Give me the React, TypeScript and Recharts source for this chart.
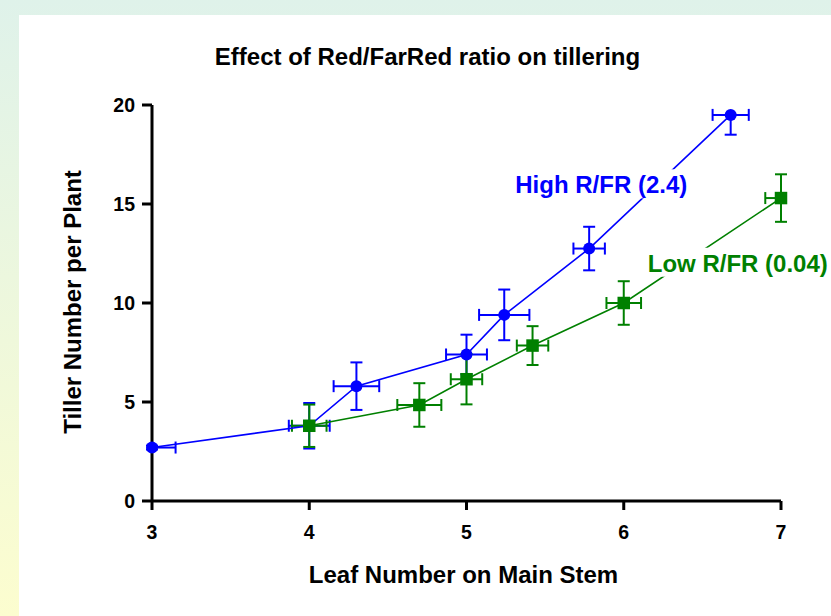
import { ScatterChart, Scatter, XAxis, YAxis, ErrorBar, ReferenceDot } from "recharts";

// Leaf number on main stem (x) and tiller number per plant (y)
const highLeaf = [3, 4, 4.3, 5, 5.24, 5.78, 6.68];
const highTillers = [2.7, 3.8, 5.8, 7.4, 9.4, 12.75, 19.5];
const highLeafErr: (number | number[])[] = [[0, 0.15], 0.13, 0.145, 0.13, 0.16, 0.1, 0.115];
const highTillerErr: (number | number[])[] = [0.1, 1.15, 1.2, 1.0, 1.28, 1.1, [1.0, 0]];

const lowLeaf = [4, 4.7, 5, 5.42, 6, 7];
const lowTillers = [3.8, 4.85, 6.15, 7.85, 10.0, 15.3];
const lowLeafErr: (number | number[])[] = [0.11, 0.14, 0.1, 0.1, 0.11, [0.1, 0]];
const lowTillerErr: (number | number[])[] = [1.07, 1.1, 1.27, 0.98, 1.1, 1.2];

const xTicks = [3, 4, 5, 6, 7];
const yTicks = [0, 5, 10, 15, 20];

const HIGH = "#0000ff";
const LOW = "#008000";
const FONT = '"Liberation Sans", Arial, Helvetica, sans-serif';

const toPoints = (
  xs: number[],
  ys: number[],
  xe: (number | number[])[],
  ye: (number | number[])[]
) => xs.map((x, i) => ({ x, y: ys[i], xErr: xe[i], yErr: ye[i] }));

const highData = toPoints(highLeaf, highTillers, highLeafErr, highTillerErr);
const lowData = toPoints(lowLeaf, lowTillers, lowLeafErr, lowTillerErr);

const CircleDot = (p: any) => <circle cx={p.cx} cy={p.cy} r={6} fill={HIGH} />;
const SquareDot = (p: any) => (
  <rect x={p.cx - 6.25} y={p.cy - 6.25} width={12.5} height={12.5} fill={LOW} />
);

const seriesLabel = (text: string, color: string, w: number) => (p: any) => {
  const { x, y } = p.viewBox;
  return (
    <g>
      <rect x={x - 3} y={y - 24} width={w} height={29} fill="#fff" />
      <text x={x} y={y} fill={color} fontFamily={FONT} fontWeight="bold" fontSize={24}>
        {text}
      </text>
    </g>
  );
};

const tickStyle = { fontFamily: FONT, fontWeight: "bold", fontSize: 19.5, fill: "#000" };

export default function App() {
  return (
    <div
      style={{
        position: "absolute",
        left: 0,
        top: 0,
        width: 831,
        height: 616,
        overflow: "hidden",
        background: "linear-gradient(#dff2ea, #fcfdcf)",
      }}
    >
      <div style={{ position: "absolute", left: 19, top: 15, right: 0, bottom: 0, background: "#fff" }} />
      <div
        style={{
          position: "absolute",
          left: 0,
          top: 45,
          width: 855,
          textAlign: "center",
          fontFamily: FONT,
          fontWeight: "bold",
          fontSize: 24,
          lineHeight: "24px",
          whiteSpace: "nowrap",
        }}
      >
        Effect of Red/FarRed ratio on tillering
      </div>
      <div style={{ position: "absolute", left: 0, top: 0 }}>
        <ScatterChart width={831} height={616} margin={{ top: 105, right: 50, bottom: 0, left: 0 }}>
          <XAxis
            type="number"
            dataKey="x"
            domain={[3, 7]}
            ticks={xTicks}
            height={115}
            tickSize={9}
            tickMargin={15}
            tick={tickStyle}
            axisLine={{ stroke: "#000", strokeWidth: 3 }}
            tickLine={{ stroke: "#000", strokeWidth: 3 }}
            label={(p: any) => (
              <text
                x={p.viewBox.x + p.viewBox.width / 2 - 3}
                y={p.viewBox.y + 82}
                textAnchor="middle"
                fontFamily={FONT}
                fontWeight="bold"
                fontSize={24}
                fill="#000"
              >
                Leaf Number on Main Stem
              </text>
            )}
          />
          <YAxis
            type="number"
            dataKey="y"
            domain={[0, 20]}
            ticks={yTicks}
            width={152}
            tickSize={10}
            tickMargin={7}
            tick={tickStyle}
            axisLine={{ stroke: "#000", strokeWidth: 3 }}
            tickLine={{ stroke: "#000", strokeWidth: 3 }}
            label={(p: any) => {
              const cx = p.viewBox.x + 81;
              const cy = p.viewBox.y + p.viewBox.height / 2 - 1;
              return (
                <text
                  x={cx}
                  y={cy}
                  transform={`rotate(-90, ${cx}, ${cy})`}
                  textAnchor="middle"
                  fontFamily={FONT}
                  fontWeight="bold"
                  fontSize={24}
                  fill="#000"
                >
                  Tiller Number per Plant
                </text>
              );
            }}
          />
          <Scatter
            name="High R/FR (2.4)"
            data={highData}
            line={{ stroke: HIGH, strokeWidth: 1.6 }}
            lineType="joint"
            shape={CircleDot}
            isAnimationActive={false}
          >
            <ErrorBar dataKey="xErr" direction="x" width={6} stroke={HIGH} strokeWidth={2} />
            <ErrorBar dataKey="yErr" direction="y" width={6} stroke={HIGH} strokeWidth={2} />
          </Scatter>
          <Scatter
            name="Low R/FR (0.04)"
            data={lowData}
            line={{ stroke: LOW, strokeWidth: 1.6 }}
            lineType="joint"
            shape={SquareDot}
            isAnimationActive={false}
          >
            <ErrorBar dataKey="xErr" direction="x" width={6} stroke={LOW} strokeWidth={2} />
            <ErrorBar dataKey="yErr" direction="y" width={6} stroke={LOW} strokeWidth={2} />
          </Scatter>
          <ReferenceDot
            x={5.31}
            y={15.54}
            r={0}
            fill="none"
            stroke="none"
            label={seriesLabel("High R/FR (2.4)", HIGH, 178)}
          />
          <ReferenceDot
            x={6.153}
            y={11.58}
            r={0}
            fill="none"
            stroke="none"
            label={seriesLabel("Low R/FR (0.04)", LOW, 186)}
          />
        </ScatterChart>
      </div>
    </div>
  );
}
